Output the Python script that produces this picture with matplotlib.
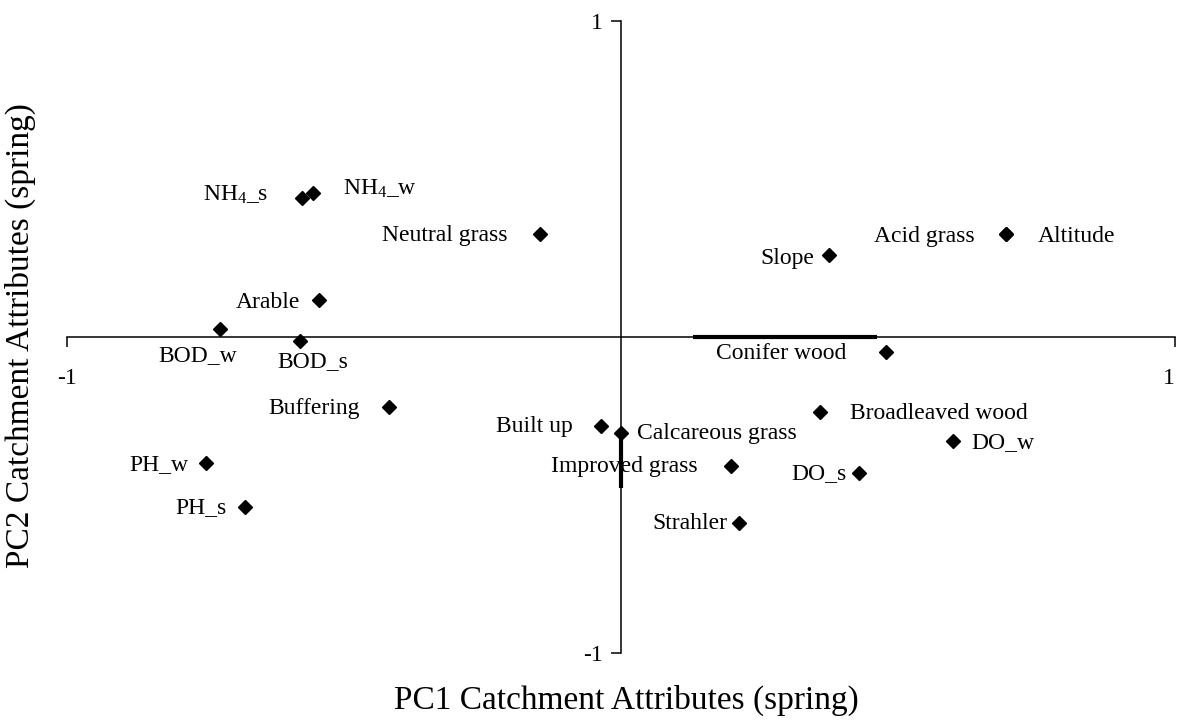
import matplotlib
matplotlib.use("Agg")
import matplotlib.pyplot as plt

plt.rcParams['font.family'] = ['Liberation Serif', 'DejaVu Serif']
plt.rcParams['mathtext.fontset'] = 'custom'
plt.rcParams['mathtext.rm'] = 'Liberation Serif'
plt.rcParams['mathtext.it'] = 'Liberation Serif:italic'

# loadings (PC1, PC2)
names = ['NH$_4$_s', 'NH$_4$_w', 'Neutral grass', 'Arable', 'BOD_w', 'BOD_s',
         'Buffering', 'PH_w', 'PH_s', 'Built up', 'Calcareous grass',
         'Improved grass', 'Strahler', 'DO_s', 'DO_w', 'Broadleaved wood',
         'Conifer wood', 'Slope', 'Acid grass', 'Altitude']
pc1 = [-0.576, -0.556, -0.146, -0.545, -0.724, -0.579,
       -0.419, -0.749, -0.679, -0.036, 0.0,
       0.199, 0.213, 0.430, 0.599, 0.359,
       0.478, 0.375, 0.695, 0.695]
pc2 = [0.440, 0.456, 0.326, 0.117, 0.025, -0.013,
       -0.222, -0.399, -0.538, -0.282, -0.304,
       -0.408, -0.589, -0.430, -0.329, -0.237,
       -0.047, 0.259, 0.326, 0.326]

# the two thick bits lying on the axes
bar_x = [0.130, 0.462]
bar_y = [-0.288, -0.478]

# label placement: (dx px, dy px, ha)
offsets = [(-34, 3, 'right'), (30, 4, 'left'), (-33, -2, 'right'), (-19, -2, 'right'),
           (17, -26, 'right'), (-23, -20, 'left'), (-29, -1, 'right'), (-18, -1, 'right'),
           (-18, -1, 'right'), (-28, 0, 'right'), (16, 0, 'left'), (-34, -1, 'right'),
           (-12, 0, 'right'), (-13, -1, 'right'), (19, -2, 'left'), (30, -2, 'left'),
           (-39, -2, 'right'), (-14, -3, 'right'), (-31, -3, 'right'), (32, -3, 'left')]

fig = plt.figure(figsize=(11.77, 7.2), dpi=100)
ax = fig.add_axes([67 / 1177, 67 / 720, 1108 / 1177, 632 / 720])
ax.set_xlim(-1, 1)
ax.set_ylim(-1, 1)

ax.spines['left'].set_position(('data', 0))
ax.spines['bottom'].set_position(('data', 0))
ax.spines['top'].set_visible(False)
ax.spines['right'].set_visible(False)
for s in ('left', 'bottom'):
    ax.spines[s].set_linewidth(1.1)
    ax.spines[s].set_zorder(1)

ax.set_xticks([-1, 1])
ax.set_yticks([-1, 1])
ax.set_xticklabels(['-1', '1'])
ax.set_yticklabels(['-1', '1'])
ax.tick_params(axis='x', direction='out', length=7, width=1.1, pad=15, labelsize=17)
ax.tick_params(axis='y', direction='out', length=7, width=1.1, pad=6, labelsize=17)
# keep the right-hand "1" inside the figure
ax.get_xticklabels()[1].set_horizontalalignment('right')

ax.plot(bar_x, [0, 0], color='black', lw=3, solid_capstyle='butt', zorder=2)
ax.plot([0, 0], bar_y, color='black', lw=3, solid_capstyle='butt', zorder=2)

ax.plot(pc1, pc2, linestyle='none', marker='D', markersize=7,
        color='black', clip_on=False, zorder=3)

for name, x, y, (dx, dy, ha) in zip(names, pc1, pc2, offsets):
    ax.annotate(name, (x, y), xytext=(dx, dy), textcoords='offset pixels',
                ha=ha, va='center', fontsize=17)

fig.text(626 / 1177, 20 / 720, 'PC1 Catchment Attributes (spring)',
         ha='center', va='center', fontsize=24)
fig.text(20 / 1177, 384 / 720, 'PC2 Catchment Attributes (spring)',
         ha='center', va='center', rotation=90, fontsize=24)

fig.savefig('out.png', dpi=100)
